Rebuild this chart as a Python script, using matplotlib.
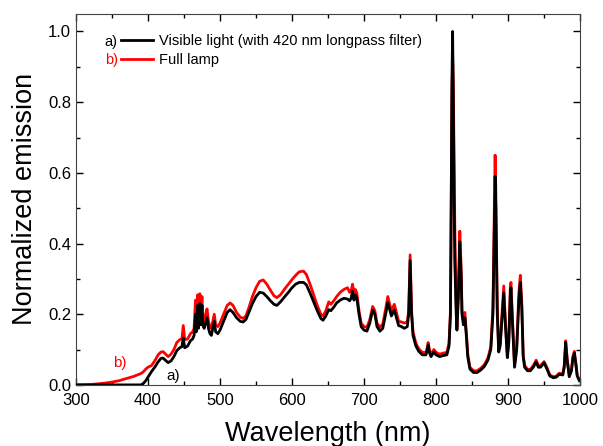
import numpy as np
import matplotlib.pyplot as plt
from matplotlib.ticker import MultipleLocator

plt.rcParams['font.family'] = ['Liberation Sans', 'DejaVu Sans']

# wavelength grid (nm) shared by both spectra
wavelength = [
    300, 320, 330, 340, 350, 360, 370, 380, 390, 393,
    397, 400, 405, 410, 414, 418, 421, 424, 428, 432,
    436, 440, 444, 447, 449, 451, 455, 459, 462, 464,
    466, 467, 469, 470, 472, 473, 475, 476, 478, 480,
    482, 484, 486, 488, 490, 492, 494, 497, 500, 505,
    510, 514, 518, 523, 528, 532, 536, 540, 545, 550,
    555, 560, 565, 570, 575, 579, 584, 590, 595, 600,
    605, 610, 616, 620, 625, 630, 635, 640, 643, 647,
    651, 654, 658, 662, 667, 672, 677, 680, 682, 684,
    686, 688, 690, 693, 696, 700, 704, 708, 712, 715,
    718, 722, 726, 730, 733, 736, 738, 742, 745, 748,
    752, 756, 760, 762, 764, 766, 768, 772, 776, 781,
    786, 788, 789, 791, 793, 797, 800, 805, 810, 815,
    818, 820, 821, 822, 823, 824, 825, 826, 828, 829,
    831, 833, 835, 836, 838, 840, 842, 844, 847, 852,
    857, 862, 867, 872, 876, 879, 881, 882, 883, 885,
    887, 889, 892, 894, 896, 899, 901, 903, 904, 906,
    909, 912, 915, 917, 919, 921, 923, 927, 931, 935,
    939, 942, 945, 950, 954, 958, 963, 967, 971, 976,
    978, 980, 982, 985, 988, 990, 992, 994, 996, 999,
]

# a) visible light, 420 nm longpass filter
visible = [
    0, 0, 0, 0, 0, 0, 0, 0, 0, 0.003,
    0.012, 0.022, 0.038, 0.052, 0.065, 0.075, 0.076, 0.070, 0.063, 0.068,
    0.080, 0.097, 0.105, 0.108, 0.133, 0.105, 0.110, 0.125, 0.130, 0.140,
    0.200, 0.150, 0.225, 0.160, 0.230, 0.170, 0.225, 0.170, 0.160, 0.175,
    0.190, 0.160, 0.145, 0.140, 0.160, 0.180, 0.150, 0.145, 0.155, 0.180,
    0.205, 0.213, 0.205, 0.190, 0.180, 0.178, 0.185, 0.205, 0.230, 0.250,
    0.262, 0.260, 0.250, 0.238, 0.228, 0.225, 0.235, 0.250, 0.262, 0.275,
    0.285, 0.290, 0.290, 0.283, 0.260, 0.235, 0.210, 0.188, 0.183, 0.195,
    0.213, 0.210, 0.220, 0.232, 0.240, 0.245, 0.243, 0.238, 0.245, 0.265,
    0.240, 0.255, 0.245, 0.200, 0.165, 0.155, 0.152, 0.175, 0.212, 0.200,
    0.165, 0.152, 0.160, 0.200, 0.233, 0.210, 0.195, 0.212, 0.190, 0.168,
    0.165, 0.160, 0.165, 0.200, 0.352, 0.200, 0.140, 0.110, 0.095, 0.085,
    0.085, 0.100, 0.113, 0.090, 0.080, 0.093, 0.085, 0.080, 0.083, 0.085,
    0.110, 0.200, 0.500, 0.850, 1.000, 0.800, 0.550, 0.350, 0.200, 0.155,
    0.250, 0.405, 0.300, 0.200, 0.170, 0.190, 0.140, 0.080, 0.045, 0.035,
    0.035, 0.042, 0.052, 0.070, 0.100, 0.200, 0.450, 0.590, 0.500, 0.200,
    0.093, 0.110, 0.200, 0.260, 0.180, 0.077, 0.120, 0.250, 0.275, 0.180,
    0.050, 0.100, 0.240, 0.290, 0.220, 0.080, 0.050, 0.040, 0.040, 0.050,
    0.065, 0.050, 0.050, 0.062, 0.045, 0.025, 0.020, 0.022, 0.030, 0.028,
    0.050, 0.120, 0.070, 0.023, 0.040, 0.075, 0.090, 0.060, 0.025, 0.012,
]

# b) full lamp
full_lamp = [
    0, 0.001, 0.003, 0.005, 0.008, 0.012, 0.018, 0.024, 0.032, 0.036,
    0.045, 0.050, 0.055, 0.070, 0.085, 0.093, 0.094, 0.088, 0.080, 0.087,
    0.100, 0.120, 0.128, 0.130, 0.168, 0.128, 0.130, 0.145, 0.150, 0.160,
    0.240, 0.170, 0.255, 0.180, 0.258, 0.190, 0.250, 0.190, 0.180, 0.200,
    0.215, 0.180, 0.165, 0.160, 0.180, 0.200, 0.170, 0.165, 0.175, 0.200,
    0.225, 0.232, 0.225, 0.205, 0.192, 0.188, 0.195, 0.218, 0.250, 0.275,
    0.293, 0.297, 0.285, 0.268, 0.252, 0.247, 0.255, 0.272, 0.285, 0.298,
    0.310, 0.320, 0.322, 0.312, 0.285, 0.255, 0.225, 0.200, 0.195, 0.210,
    0.235, 0.228, 0.238, 0.250, 0.262, 0.270, 0.275, 0.262, 0.265, 0.285,
    0.260, 0.270, 0.260, 0.210, 0.175, 0.165, 0.163, 0.185, 0.222, 0.210,
    0.175, 0.163, 0.172, 0.215, 0.250, 0.225, 0.210, 0.228, 0.205, 0.180,
    0.178, 0.175, 0.178, 0.210, 0.368, 0.210, 0.150, 0.118, 0.102, 0.092,
    0.092, 0.108, 0.120, 0.097, 0.087, 0.100, 0.092, 0.087, 0.090, 0.092,
    0.118, 0.210, 0.500, 0.800, 0.930, 0.850, 0.660, 0.450, 0.220, 0.165,
    0.270, 0.435, 0.320, 0.210, 0.180, 0.205, 0.150, 0.088, 0.050, 0.040,
    0.040, 0.047, 0.057, 0.076, 0.108, 0.220, 0.500, 0.650, 0.550, 0.220,
    0.100, 0.117, 0.215, 0.280, 0.190, 0.082, 0.130, 0.270, 0.290, 0.190,
    0.055, 0.110, 0.260, 0.310, 0.235, 0.085, 0.055, 0.044, 0.044, 0.055,
    0.070, 0.055, 0.054, 0.066, 0.049, 0.028, 0.023, 0.025, 0.033, 0.031,
    0.055, 0.125, 0.075, 0.026, 0.043, 0.080, 0.095, 0.064, 0.028, 0.014,
]

fig = plt.figure(figsize=(6.03, 4.46), dpi=100)
ax = fig.add_axes([0.126, 0.137, 0.836, 0.832])

ax.plot(wavelength, full_lamp, color='red', lw=2, label='Full lamp', zorder=2)
ax.plot(wavelength, visible, color='black', lw=2,
        label='Visible light (with 420 nm longpass filter)', zorder=3)

ax.set_xlim(300, 1000)
ax.set_ylim(0, 1.05)
ax.xaxis.set_major_locator(MultipleLocator(100))
ax.xaxis.set_minor_locator(MultipleLocator(50))
ax.yaxis.set_major_locator(MultipleLocator(0.2))
ax.yaxis.set_minor_locator(MultipleLocator(0.1))
ax.yaxis.set_major_formatter(plt.FuncFormatter(lambda v, p: f'{v:.1f}'))
ax.tick_params(which='both', direction='in', top=True, right=True,
               labelsize=12, colors='black')
ax.tick_params(axis='x', which='major', pad=6)
ax.tick_params(which='major', length=5, width=1)
ax.tick_params(which='minor', length=3, width=1)
for s in ax.spines.values():
    s.set_color('#444444')

ax.set_xlabel('Wavelength (nm)', fontsize=19.5, labelpad=9)
ax.set_ylabel('Normalized emission', fontsize=19.5, labelpad=7)

handles, labels = ax.get_legend_handles_labels()
ax.legend(handles[::-1], labels[::-1], loc='upper left', frameon=False,
          bbox_to_anchor=(0.09, 0.946), borderaxespad=0, borderpad=0,
          handlelength=2.2, handletextpad=0.35, labelspacing=0.35, fontsize=10.5)
ax.text(0.083, 0.925, 'a)', transform=ax.transAxes, ha='right', va='center',
        fontsize=10.5, color='black')
ax.text(0.083, 0.876, 'b)', transform=ax.transAxes, ha='right', va='center',
        fontsize=10.5, color='red')

# curve labels near the onset of each spectrum
ax.text(435, 0.025, 'a)', ha='center', va='center', fontsize=11, color='black')
ax.text(361, 0.062, 'b)', ha='center', va='center', fontsize=11, color='red')

fig.savefig('out.png', dpi=100)
